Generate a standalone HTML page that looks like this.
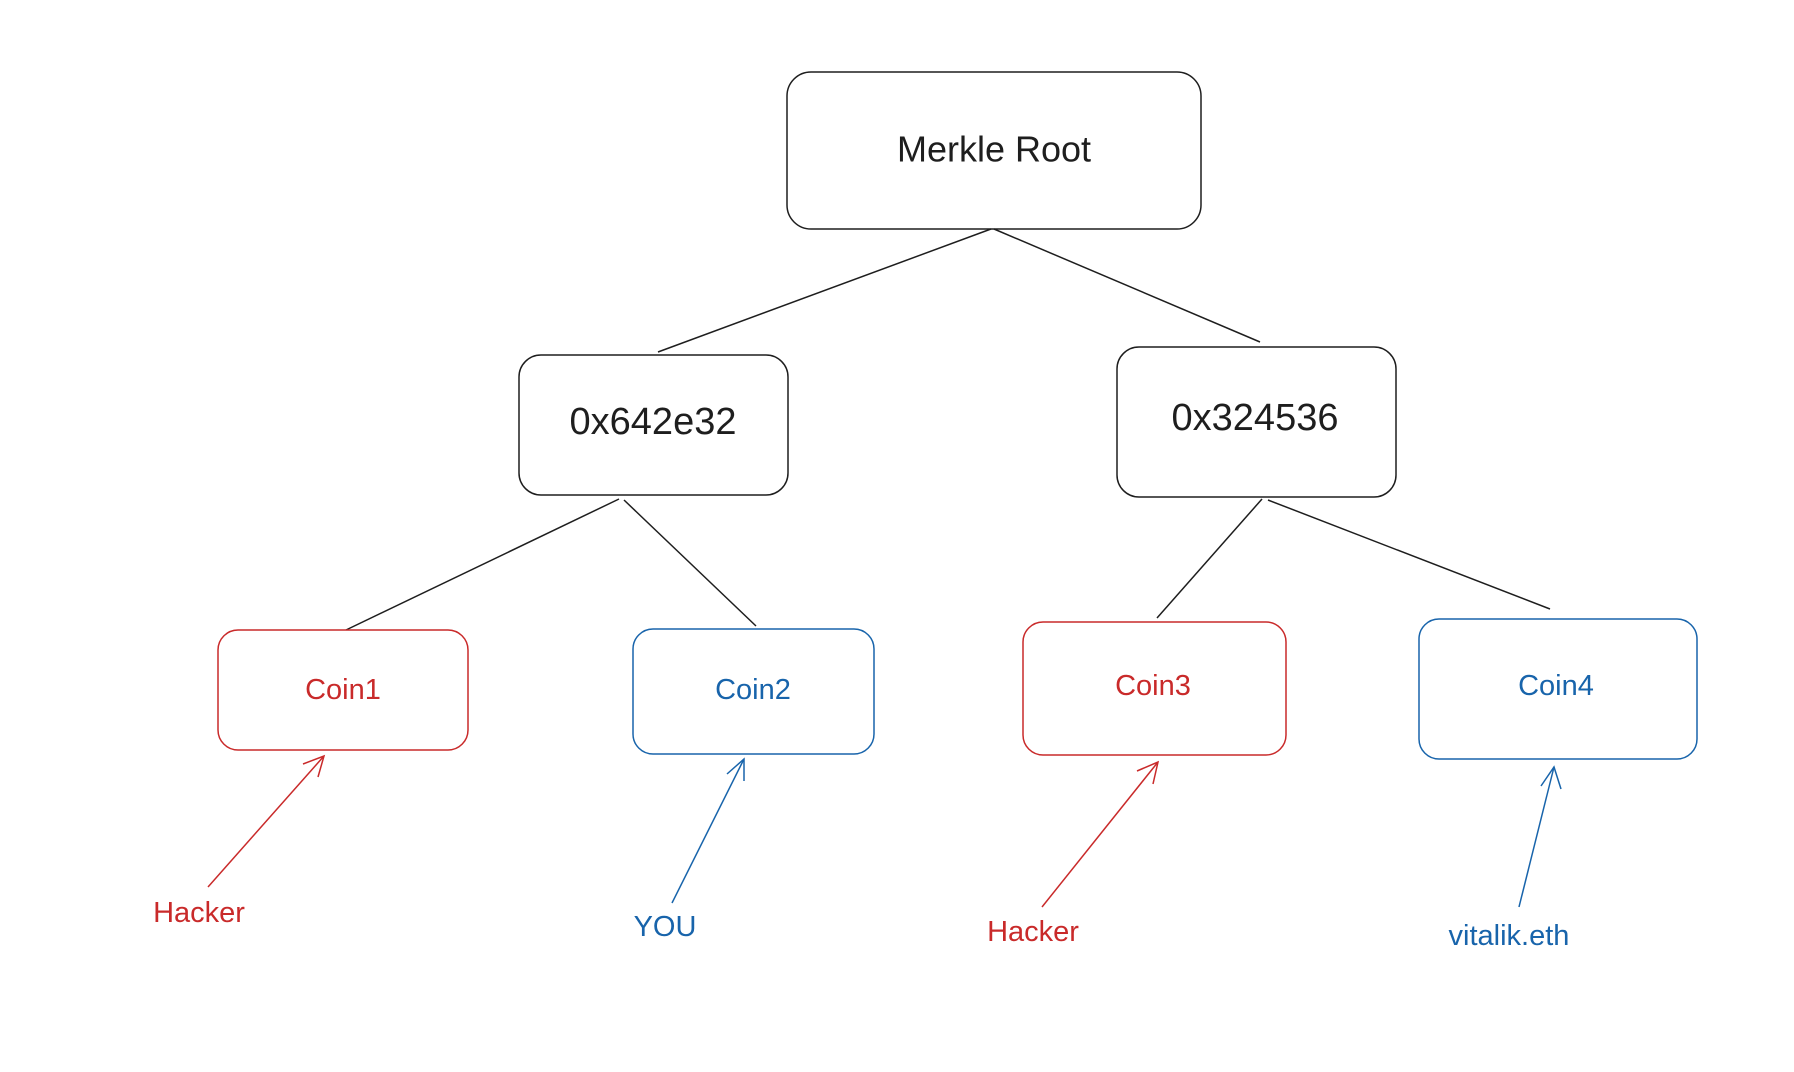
<!DOCTYPE html>
<html><head><meta charset="utf-8"><style>
html,body{margin:0;padding:0;background:#fff}
svg{display:block}
text{font-family:"Liberation Sans","DejaVu Sans",sans-serif;text-anchor:middle;dominant-baseline:central}
</style></head><body>
<svg width="1794" height="1072" viewBox="0 0 1794 1072" xmlns="http://www.w3.org/2000/svg">
<rect width="1794" height="1072" fill="#fff"/>
<g fill="none" stroke="#1e1e1e" stroke-width="1.5">
<rect x="787" y="72" width="414" height="157" rx="24"/>
<rect x="519" y="355" width="269" height="140" rx="22"/>
<rect x="1117" y="347" width="279" height="150" rx="22"/>
<line x1="991" y1="229" x2="658" y2="352"/>
<line x1="994" y1="229" x2="1260" y2="342"/>
<line x1="619" y1="499" x2="346" y2="630"/>
<line x1="624" y1="500" x2="756" y2="626"/>
<line x1="1262" y1="499" x2="1157" y2="618"/>
<line x1="1268" y1="500" x2="1550" y2="609"/>
</g>
<g fill="none" stroke="#c92a2a" stroke-width="1.5">
<rect x="218" y="630" width="250" height="120" rx="20"/>
<rect x="1023" y="622" width="263" height="133" rx="20"/>
<line x1="208" y1="887" x2="324" y2="756"/>
<polyline points="303,764 324,756 318,777"/>
<line x1="1042" y1="907" x2="1158" y2="762"/>
<polyline points="1137,771 1158,762 1153,784"/>
</g>
<g fill="none" stroke="#1864ab" stroke-width="1.5">
<rect x="633" y="629" width="241" height="125" rx="20"/>
<rect x="1419" y="619" width="278" height="140" rx="20"/>
<line x1="672" y1="903" x2="744" y2="759"/>
<polyline points="727,774 744,759 744,781"/>
<line x1="1519" y1="907" x2="1554" y2="767"/>
<polyline points="1541,786 1554,767 1561,789"/>
</g>
<g fill="#1e1e1e">
<text x="994" y="149" font-size="36">Merkle Root</text>
<text x="653" y="422" font-size="38">0x642e32</text>
<text x="1255" y="418" font-size="38">0x324536</text>
</g>
<g fill="#c92a2a" font-size="29">
<text x="343" y="690">Coin1</text>
<text x="1153" y="686">Coin3</text>
<text x="199" y="913">Hacker</text>
<text x="1033" y="932">Hacker</text>
</g>
<g fill="#1864ab" font-size="29">
<text x="753" y="690">Coin2</text>
<text x="1556" y="686">Coin4</text>
<text x="665" y="927">YOU</text>
<text x="1509" y="936">vitalik.eth</text>
</g>
</svg>
</body></html>
